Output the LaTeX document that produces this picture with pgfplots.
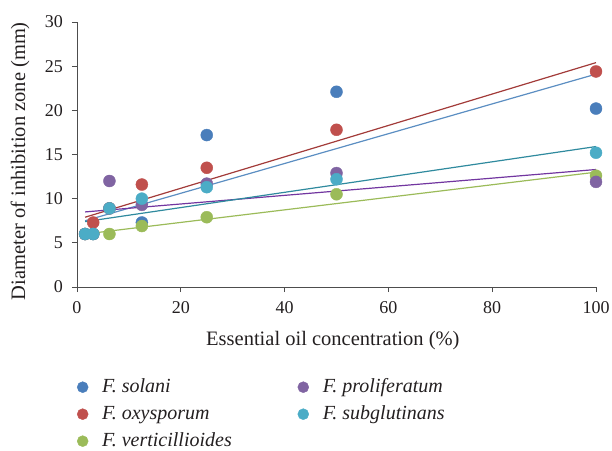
\documentclass[border=0pt]{standalone}
\usepackage{pgfplots}
\pgfplotsset{compat=1.18}
\usepackage{fontspec}
\setmainfont{Liberation Serif}
\definecolor{cSol}{HTML}{4A7EBB}
\definecolor{cOxy}{HTML}{C0504D}
\definecolor{cVer}{HTML}{9BBB59}
\definecolor{cPro}{HTML}{8064A2}
\definecolor{cSub}{HTML}{4BACC6}
\definecolor{lSol}{HTML}{5B8EC2}
\definecolor{lOxy}{HTML}{A23B39}
\definecolor{lVer}{HTML}{9BBB59}
\definecolor{lPro}{HTML}{7236A0}
\definecolor{lSub}{HTML}{2F8A9E}
\definecolor{axgray}{HTML}{4D4D4D}
\definecolor{txt}{HTML}{231F20}
\begin{document}
\fontsize{18bp}{22bp}\selectfont
\begin{tikzpicture}
\path[use as bounding box] (-77bp,-164bp) rectangle (535bp,287bp);
\begin{axis}[
  at={(0,0)}, anchor=origin,
  scale only axis, width=519bp, height=265bp,
  xmin=0, xmax=100, ymin=0, ymax=30,
  axis lines=left, axis line style={axgray, line width=0.8bp, -},
  xtick={0,20,...,100}, ytick={0,5,...,30},
  tick align=outside, tick style={axgray, line width=0.8bp},
  major tick length=5bp,
  tick label style={font=\fontsize{18bp}{22bp}\selectfont, text=txt},
  yticklabel style={xshift=-3bp},
  xticklabel style={yshift=-3bp},
  /pgf/number format/assume math mode=true,
  xlabel={Essential oil concentration (\%)},
  ylabel={Diameter of inhibition zone (mm)},
  label style={font=\fontsize{20.5bp}{24bp}\selectfont, text=txt},
  xlabel style={at={(axis description cs:0.493,-0.203)}, anchor=center},
  ylabel style={at={(axis description cs:-0.1098,0.475)}, anchor=center},
  clip=false,
  legend columns=2,
  legend cell align=left,
  legend style={at={(axis description cs:0,0)}, anchor=north west, xshift=-3bp, yshift=-87bp,
    draw=none, fill=none, font=\fontsize{20bp}{24bp}\selectfont\itshape, text=txt,
    nodes={text height=14bp, text depth=4bp},
    row sep=5bp,
    /tikz/column 1/.style={column sep=12bp},
    /tikz/column 2/.style={column sep=64bp},
    /tikz/column 3/.style={column sep=12bp}},
]
% markers, in drawing order
\addplot[only marks, mark=*, mark size=6bp, cSol, forget plot] coordinates {
 (1.5625,6) (3.125,6) (6.25,8.9) (12.5,7.3) (25,17.2) (50,22.1) (100,20.2)};
\addplot[only marks, mark=*, mark size=6bp, cOxy, forget plot] coordinates {
 (1.5625,6) (3.125,7.3) (6.25,8.9) (12.5,11.6) (25,13.5) (50,17.8) (100,24.4)};
\addplot[only marks, mark=*, mark size=6bp, cVer, forget plot] coordinates {
 (1.5625,6) (3.125,6) (6.25,6) (12.5,6.9) (25,7.9) (50,10.5) (100,12.6)};
\addplot[only marks, mark=*, mark size=6bp, cPro, forget plot] coordinates {
 (1.5625,6) (3.125,6) (6.25,12) (12.5,9.3) (25,11.7) (50,12.9) (100,11.9)};
\addplot[only marks, mark=*, mark size=6bp, cSub, forget plot] coordinates {
 (1.5625,6) (3.125,6) (6.25,8.9) (12.5,10) (25,11.3) (50,12.2) (100,15.2)};
% linear trend lines
\addplot[lSol, line width=1.2bp, forget plot] coordinates {(1.5625,7.5) (100,24.1)};
\addplot[lOxy, line width=1.2bp, forget plot] coordinates {(1.5625,7.9) (100,25.4)};
\addplot[lVer, line width=1.2bp, forget plot] coordinates {(1.5625,6.0) (100,13.0)};
\addplot[lPro, line width=1.2bp, forget plot] coordinates {(1.5625,8.5) (100,13.3)};
\addplot[lSub, line width=1.2bp, forget plot] coordinates {(1.5625,7.4) (100,15.9)};
% legend
\addlegendimage{only marks, mark=*, mark size=5.5bp, cSol}
\addlegendentry{F. solani}
\addlegendimage{only marks, mark=*, mark size=5.5bp, cPro}
\addlegendentry{F. proliferatum}
\addlegendimage{only marks, mark=*, mark size=5.5bp, cOxy}
\addlegendentry{F. oxysporum}
\addlegendimage{only marks, mark=*, mark size=5.5bp, cSub}
\addlegendentry{F. subglutinans}
\addlegendimage{only marks, mark=*, mark size=5.5bp, cVer}
\addlegendentry{F. verticillioides}
\end{axis}
\end{tikzpicture}
\end{document}
